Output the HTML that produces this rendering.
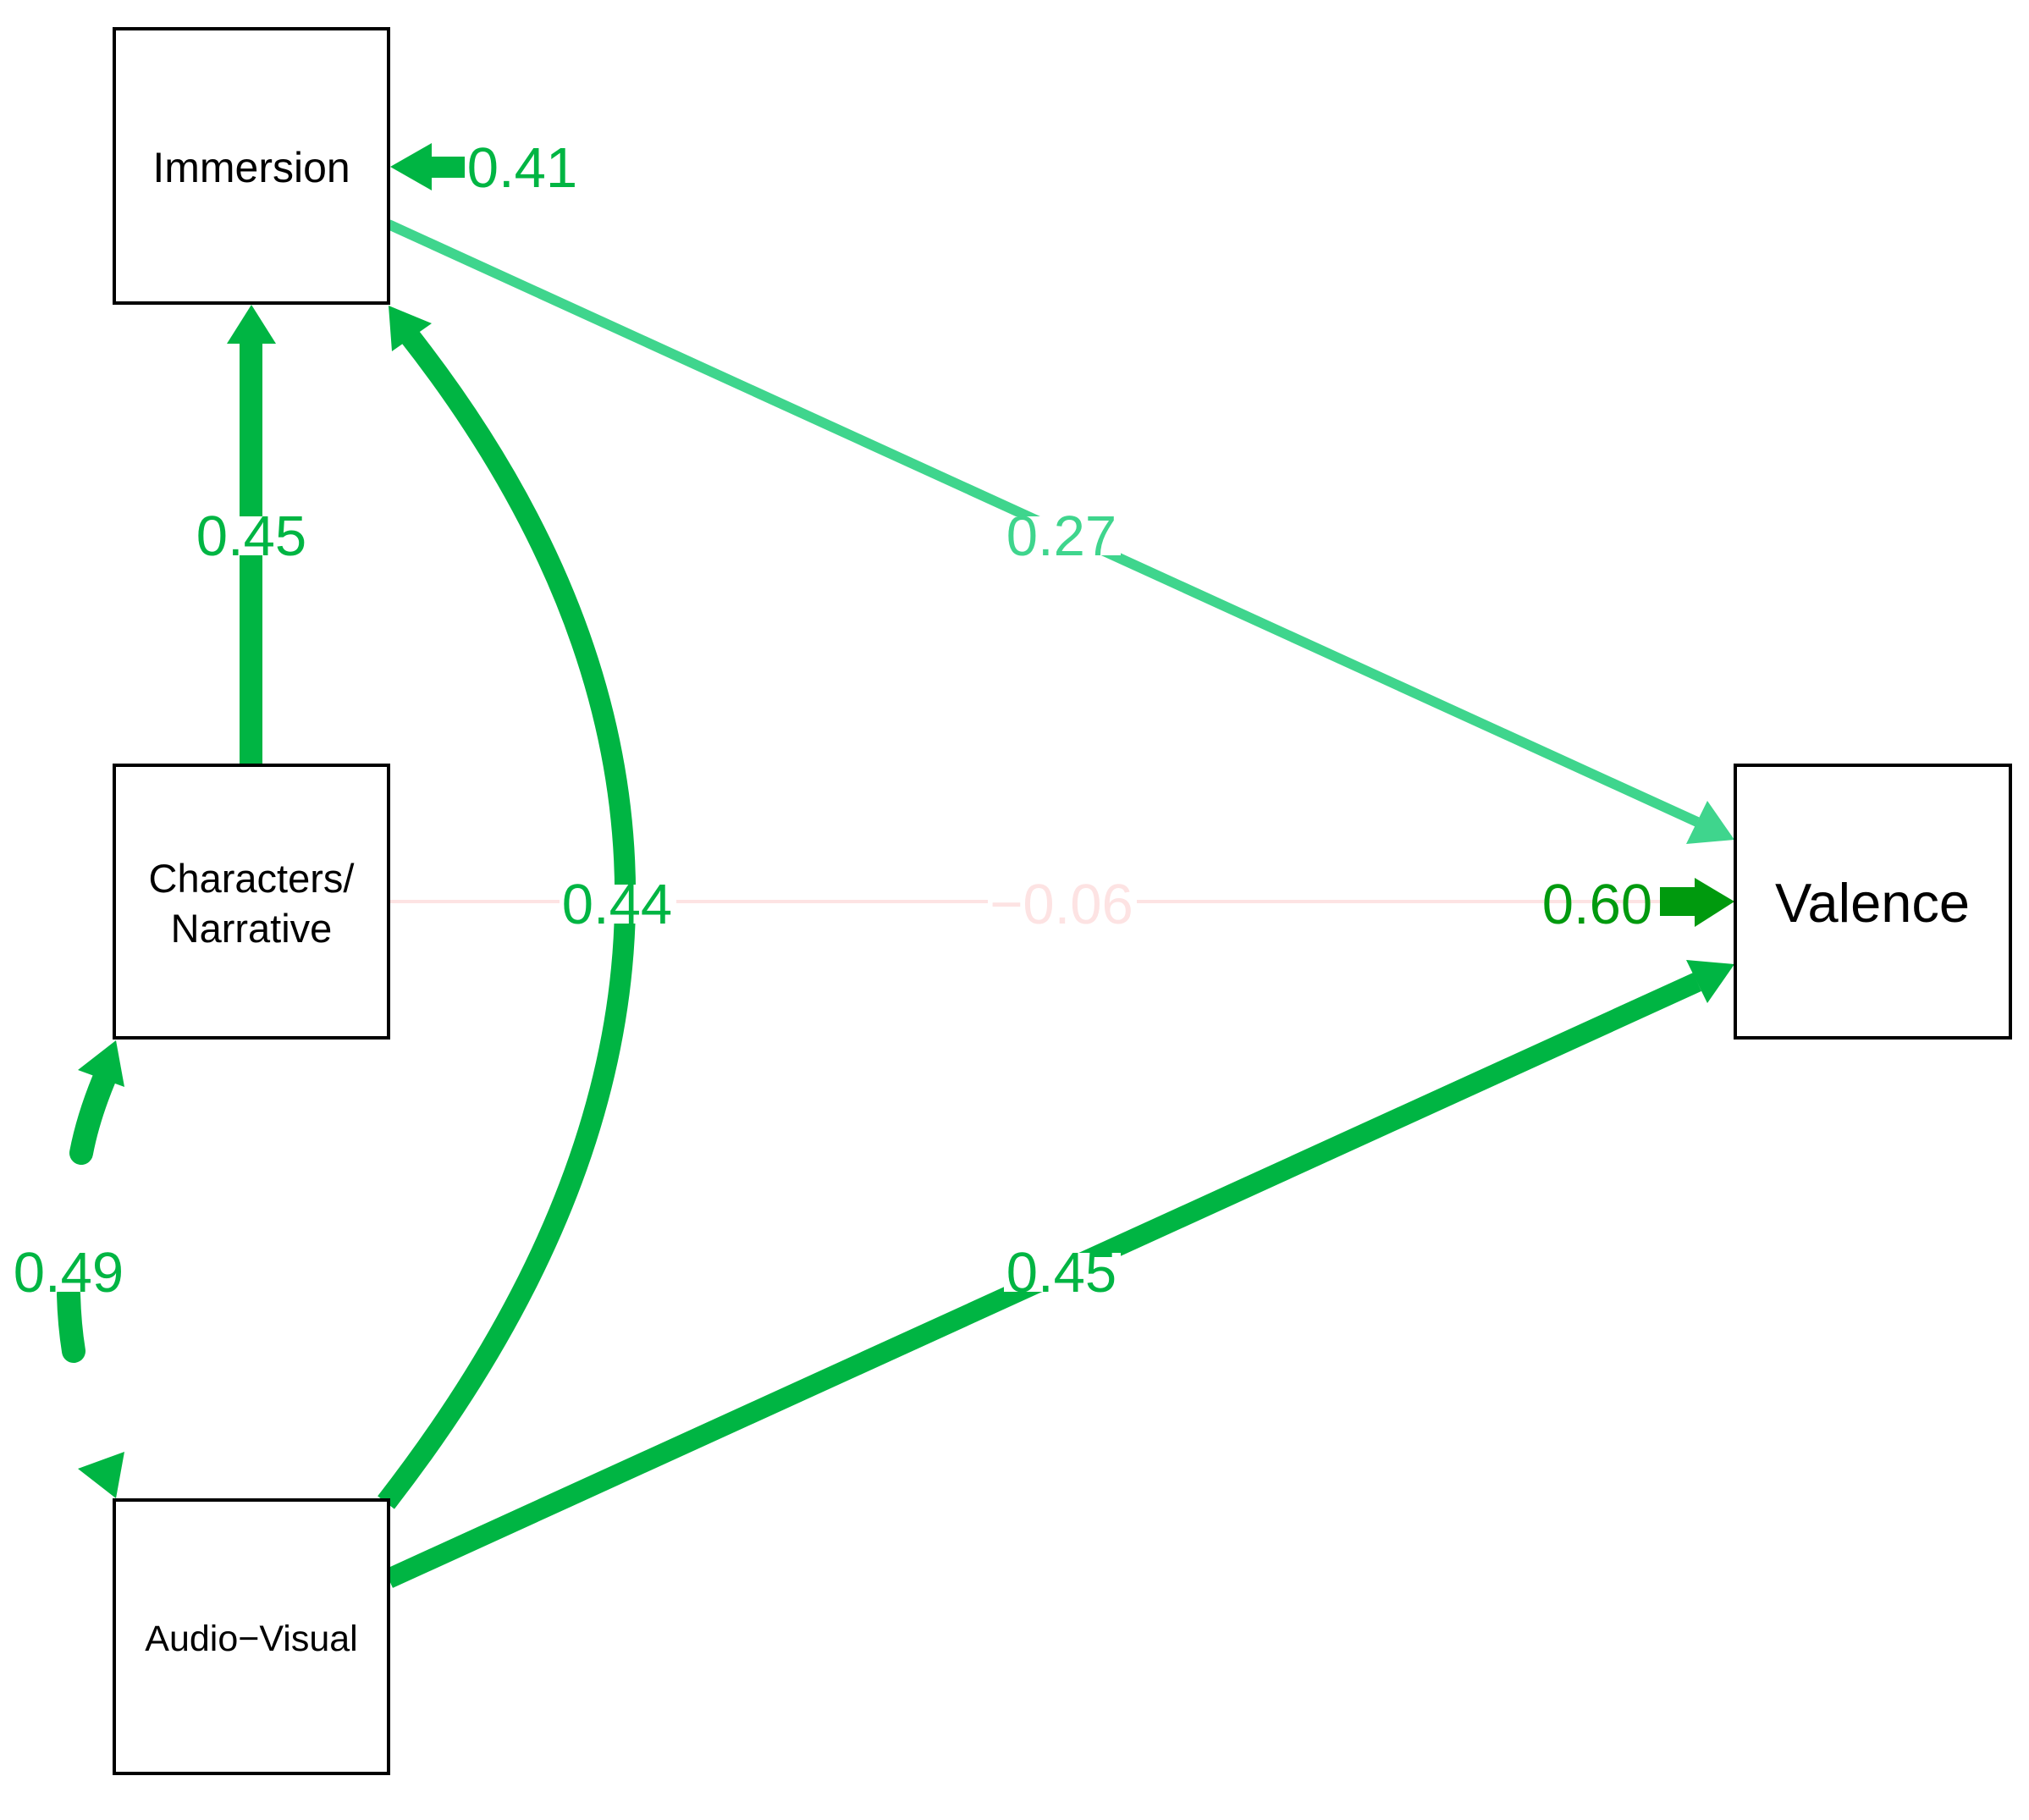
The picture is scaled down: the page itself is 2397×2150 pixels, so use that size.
<!DOCTYPE html>
<html><head><meta charset="utf-8"><style>
html,body{margin:0;padding:0;background:#fff;}
svg{display:block;}
text{font-family:"Liberation Sans",sans-serif;}
</style></head><body>
<svg width="2397" height="2150" viewBox="0 0 2397 2150" xmlns="http://www.w3.org/2000/svg">
<!-- pink line char -> valence -->
<line x1="461" y1="1065" x2="2049" y2="1065" stroke="#FDE3E3" stroke-width="4"/>
<!-- Immersion -> Valence -->
<line x1="459" y1="265" x2="2005" y2="971" stroke="#3FD58D" stroke-width="12"/>
<polygon points="2049,992 1992,997 2017,946" fill="#3FD58D"/>
<!-- AV -> Valence -->
<line x1="459" y1="1865" x2="2005" y2="1160" stroke="#00B543" stroke-width="24"/>
<polygon points="2049,1139 1992,1134 2017,1185" fill="#00B543"/>
<!-- 0.60 residual -->
<rect x="1961" y="1048" width="42" height="34" fill="#009A0E"/>
<polygon points="2002,1037 2002,1095 2049,1065" fill="#009A0E"/>
<!-- Char -> Immersion -->
<rect x="283" y="400" width="27" height="504" fill="#00B543"/>
<polygon points="297,360 268,406 326,406" fill="#00B543"/>
<!-- Immersion residual -->
<rect x="505" y="185" width="44" height="25" fill="#00B543"/>
<polygon points="461,197 510,169 510,225" fill="#00B543"/>
<!-- curved 0.44 -->
<path d="M456,1775 Q1009,1063 480,392" fill="none" stroke="#00B543" stroke-width="25"/>
<polygon points="459,361 463,415 510,382" fill="#00B543"/>
<!-- 0.49 segments -->
<path d="M96,1362 Q104,1320 124,1272" fill="none" stroke="#00B543" stroke-width="28" stroke-linecap="round"/>
<polygon points="137,1229 92,1264 147,1284" fill="#00B543"/>
<path d="M81,1529 Q82,1565 87,1596" fill="none" stroke="#00B543" stroke-width="28" stroke-linecap="round"/>
<polygon points="137,1770 92,1735 147,1715" fill="#00B543"/>
<!-- boxes -->
<g fill="#fff" stroke="#000" stroke-width="4">
<rect x="135" y="34" width="324" height="324"/>
<rect x="135" y="904" width="324" height="322"/>
<rect x="135" y="1772" width="324" height="323"/>
<rect x="2050" y="904" width="325" height="322"/>
</g>
<g fill="#000" text-anchor="middle">
<text x="297" y="215" font-size="50">Immersion</text>
<text x="297" y="1054" font-size="47">Characters/</text>
<text x="297" y="1113" font-size="47">Narrative</text>
<text x="297" y="1950" font-size="43">Audio−Visual</text>
<text x="2212" y="1089" font-size="65">Valence</text>
</g>
<!-- label backgrounds -->
<g fill="#fff">
<rect x="228" y="610" width="138" height="46"/>
<rect x="1186" y="610" width="138" height="46"/>
<rect x="661" y="1045" width="138" height="46"/>
<rect x="1167" y="1045" width="176" height="46"/>
<rect x="1186" y="1480" width="138" height="46"/>
<rect x="13" y="1480" width="138" height="46"/>
</g>
<g font-size="67" text-anchor="middle">
<text x="617" y="221" fill="#00B543">0.41</text>
<text x="297" y="656" fill="#00B543">0.45</text>
<text x="1254" y="656" fill="#3FD58D">0.27</text>
<text x="729" y="1091" fill="#00B543">0.44</text>
<text x="1254" y="1091" fill="#FDE3E3">−0.06</text>
<text x="1887" y="1091" fill="#009A0E">0.60</text>
<text x="1254" y="1526" fill="#00B543">0.45</text>
<text x="81" y="1526" fill="#00B543">0.49</text>
</g>
</svg>
</body></html>
